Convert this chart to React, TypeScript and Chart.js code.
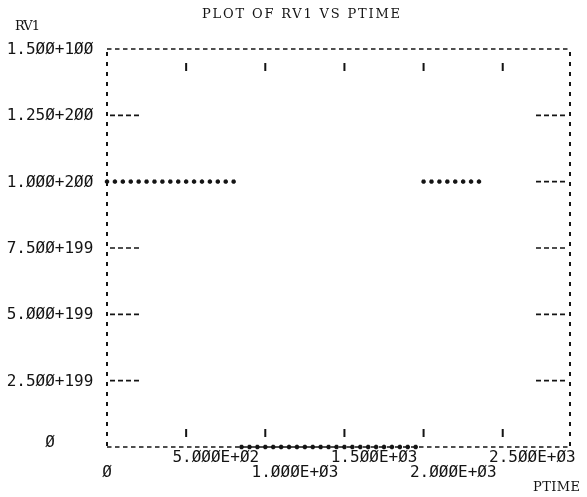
import React, { useEffect, useRef } from "react";
import { Chart, registerables } from "chart.js";

Chart.register(...registerables);

// Sample times (PTIME) and the RV1 value recorded at each one
const ptime = [
  0, 50, 100, 150, 200, 250, 300, 350, 400, 450, 500, 550, 600, 650, 700, 750, 800,
  850, 900, 950, 1000, 1050, 1100, 1150, 1200, 1250, 1300, 1350, 1400, 1450, 1500,
  1550, 1600, 1650, 1700, 1750, 1800, 1850, 1900, 1950,
  2000, 2050, 2100, 2150, 2200, 2250, 2300, 2350,
];
const rv1 = [
  // 0 .. 800
  1e200, 1e200, 1e200, 1e200, 1e200, 1e200, 1e200, 1e200, 1e200,
  1e200, 1e200, 1e200, 1e200, 1e200, 1e200, 1e200, 1e200,
  // 850 .. 1500
  0, 0, 0, 0, 0, 0, 0, 0, 0, 0, 0, 0, 0, 0,
  // 1550 .. 1950
  0, 0, 0, 0, 0, 0, 0, 0, 0,
  // 2000 .. 2350
  1e200, 1e200, 1e200, 1e200, 1e200, 1e200, 1e200, 1e200,
];

// Axis ranges and printed tick labels
const xMax = 2925;
const yMax = 1.5e200;
const yTickValues = [0, 2.5e199, 5e199, 7.5e199, 1e200, 1.25e200, 1.5e200];
const yTickLabels = ["Ø", "2.5ØØ+199", "5.ØØØ+199", "7.5ØØ+199", "1.ØØØ+2ØØ", "1.25Ø+2ØØ", "1.5ØØ+1ØØ"];
const xTickValues = [0, 500, 1000, 1500, 2000, 2500];
const xTickLabels = ["Ø", "5.ØØØE+Ø2", "1.ØØØE+Ø3", "1.5ØØE+Ø3", "2.ØØØE+Ø3", "2.5ØØE+Ø3"];

const chartTitle = "PLOT OF RV1 VS PTIME";
const yAxisName = "RV1";
const xAxisName = "PTIME";

const INK = "#141414";
const MONO = '16px "DejaVu Sans Mono"';
const SERIF = '13px "DejaVu Serif"';

function spacedText(
  ctx: CanvasRenderingContext2D,
  text: string,
  x: number,
  y: number,
  width: number,
  align: "left" | "center" | "right"
) {
  (ctx as any).letterSpacing = "0px";
  const w = ctx.measureText(text).width;
  const ls = text.length > 1 ? (width - w) / (text.length - 1) : 0;
  (ctx as any).letterSpacing = ls + "px";
  const full = ctx.measureText(text).width - ls;
  let sx = x;
  if (align === "center") sx = x - full / 2;
  if (align === "right") sx = x - full;
  ctx.textAlign = "left";
  ctx.fillText(text, sx, y);
  (ctx as any).letterSpacing = "0px";
}

const printerFrame = {
  id: "printerFrame",
  beforeDatasetsDraw(chart: any) {
    const { ctx, chartArea, scales } = chart;
    const { left, right, top, bottom } = chartArea;
    const x = scales.x;
    const y = scales.y;
    ctx.save();
    ctx.strokeStyle = INK;
    ctx.fillStyle = INK;

    // horizontal border rows of dashes
    ctx.lineWidth = 1.6;
    ctx.setLineDash([4.5, 3.5]);
    for (const py of [top, bottom]) {
      ctx.beginPath();
      ctx.moveTo(left, py);
      ctx.lineTo(right, py);
      ctx.stroke();
    }

    // vertical border columns
    ctx.lineWidth = 2;
    ctx.setLineDash([4, 6]);
    for (const px of [left, right]) {
      ctx.beginPath();
      ctx.moveTo(px, top + 3);
      ctx.lineTo(px, bottom);
      ctx.stroke();
    }

    // interior y tick dashes
    ctx.lineWidth = 1.6;
    ctx.setLineDash([5, 3]);
    yTickValues.forEach((v) => {
      if (v === 0 || v === yMax) return;
      const py = y.getPixelForValue(v);
      if (rv1[0] !== v) {
        ctx.beginPath();
        ctx.moveTo(left + 3, py);
        ctx.lineTo(left + 35, py);
        ctx.stroke();
      }
      ctx.beginPath();
      ctx.moveTo(right - 34, py);
      ctx.lineTo(right - 2, py);
      ctx.stroke();
    });

    // x tick marks near top and bottom rows
    ctx.setLineDash([]);
    ctx.lineWidth = 2;
    xTickValues.forEach((v) => {
      if (v === 0) return;
      const px = x.getPixelForValue(v);
      ctx.beginPath();
      ctx.moveTo(px, top + 14);
      ctx.lineTo(px, top + 22);
      ctx.moveTo(px, bottom - 18);
      ctx.lineTo(px, bottom - 10);
      ctx.stroke();
    });

    // y tick labels
    ctx.font = MONO;
    ctx.textBaseline = "middle";
    ctx.textAlign = "center";
    yTickValues.forEach((v, i) => {
      const py = y.getPixelForValue(v);
      ctx.fillText(yTickLabels[i], 50, v === 0 ? py - 4 : py + 1);
    });

    // x tick labels in two staggered rows
    xTickValues.forEach((v, i) => {
      const px = x.getPixelForValue(v);
      const rowY = i % 2 === 1 ? bottom + 11 : bottom + 26;
      if (v === 0) {
        ctx.textAlign = "center";
        ctx.fillText(xTickLabels[i], px, rowY);
      } else {
        ctx.textAlign = "right";
        ctx.fillText(xTickLabels[i], px + 73, rowY);
      }
    });

    // title and axis names
    ctx.font = SERIF;
    spacedText(ctx, chartTitle, 301, 15, 198, "center");
    spacedText(ctx, yAxisName, 15, 27, 25, "left");
    spacedText(ctx, xAxisName, 580, 488, 47, "right");

    ctx.restore();
  },
};

export default function App() {
  const canvasRef = useRef<HTMLCanvasElement | null>(null);

  useEffect(() => {
    if (!canvasRef.current) return;
    const chart = new Chart(canvasRef.current, {
      type: "scatter",
      data: {
        datasets: [
          {
            label: yAxisName,
            data: ptime.map((t, i) => ({ x: t, y: rv1[i] })),
            pointStyle: "star",
            pointRadius: 2.2,
            borderWidth: 1.8,
            borderColor: INK,
            backgroundColor: INK,
            showLine: false,
            clip: false as any,
          },
        ],
      },
      options: {
        animation: false,
        responsive: false,
        devicePixelRatio: 1,
        layout: { padding: { left: 107, right: 17, top: 49, bottom: 50 } },
        plugins: {
          legend: { display: false },
          tooltip: { enabled: false },
          title: { display: false },
        },
        scales: {
          x: { type: "linear", min: 0, max: xMax, display: false },
          y: { type: "linear", min: 0, max: yMax, display: false },
        },
      },
      plugins: [printerFrame],
    });
    return () => chart.destroy();
  }, []);

  return (
    <div style={{ position: "fixed", left: 0, top: 0, width: 587, height: 497, background: "#fff" }}>
      <canvas ref={canvasRef} width={587} height={497} style={{ display: "block" }} />
    </div>
  );
}
